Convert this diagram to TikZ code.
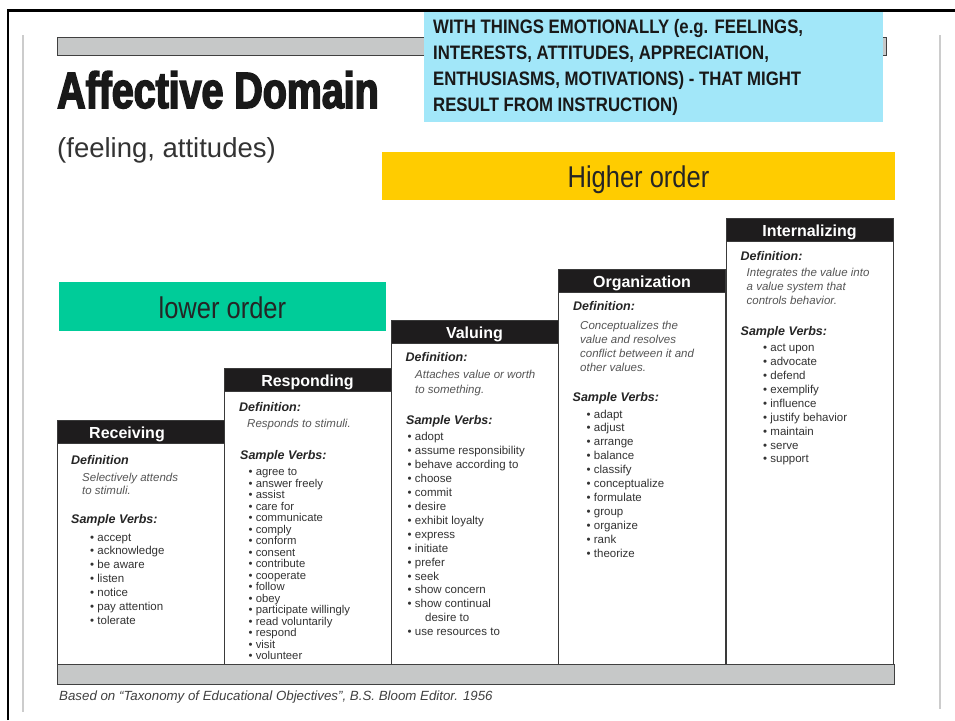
\documentclass[tikz,border=0pt]{standalone}
\usepackage{fontspec}
\setmainfont{Liberation Sans}
\newfontfamily\narrowfont[FakeStretch=0.85]{Liberation Sans}
\newfontfamily\bluefont[FakeStretch=0.86]{Liberation Sans}
\newfontfamily\titlefont[FakeStretch=0.772,FakeBold=3]{Liberation Sans}
\definecolor{hdrblack}{HTML}{1E1C1D}
\definecolor{colline}{HTML}{3A3A3A}
\definecolor{barfill}{HTML}{C6C8C8}
\definecolor{barline}{HTML}{404040}
\definecolor{cyanbox}{HTML}{A2E7F9}
\definecolor{yellowbox}{HTML}{FFCC00}
\definecolor{greenbox}{HTML}{00CC99}
\definecolor{framegray}{HTML}{CCCCCC}
\definecolor{itemtext}{HTML}{333333}
\definecolor{deftext}{HTML}{555555}
\definecolor{lbltext}{HTML}{252525}
\tikzset{
  colbox/.style={draw=colline, line width=1.3pt, fill=white, minimum width=167pt, anchor=north west, inner sep=0pt},
  hdrbox/.style={draw=colline, line width=1.2pt, fill=hdrblack, minimum width=167pt, minimum height=23pt, anchor=north west, inner sep=0pt},
  hdrtxt/.style={text=white, anchor=base, inner sep=0pt, font=\bfseries\fontsize{16}{19}\selectfont},
  deflbl/.style={anchor=base west, inner sep=0pt, text=lbltext, font=\bfseries\itshape\fontsize{12.5}{14}\selectfont},
  deftxt/.style={anchor=base west, inner sep=0pt, text=deftext, font=\itshape\fontsize{11.5}{14}\selectfont},
  itemtxt/.style={anchor=base west, inner sep=0pt, text=itemtext, font=\fontsize{11.5}{14}\selectfont},
  itemtxtsmall/.style={anchor=base west, inner sep=0pt, text=itemtext, font=\fontsize{11.3}{12}\selectfont},
  grbar/.style={draw=barline, line width=1.3pt, fill=barfill, anchor=north west, inner sep=0pt},
  colorbox/.style={anchor=north west, inner sep=0pt, draw=none},
  bigtxt/.style={anchor=base, inner sep=0pt, text=lbltext, font=\narrowfont\fontsize{30}{34}\selectfont},
  bluetxt/.style={anchor=base west, inner sep=0pt, text=black!90, font=\bluefont\bfseries\fontsize{19.5}{24}\selectfont},
}
\begin{document}
\begin{tikzpicture}[x=1pt,y=-1pt]
\useasboundingbox (0,0) rectangle (955,720);
\fill[white] (0,0) rectangle (955,720);
% frame lines
\coordinate (ftl) at (8,10.5);
\coordinate (ftr) at (955,10.5);
\coordinate (fbl) at (8,720);
\draw[black, line width=2.4pt] (fbl) -- (ftl) -- (ftr);
\coordinate (lg1) at (23,35);
\coordinate (lg2) at (23,712);
\coordinate (rg1) at (940,35);
\coordinate (rg2) at (940,709);
\draw[framegray, line width=1.6pt] (lg1) -- (lg2);
\draw[framegray, line width=1.6pt] (rg1) -- (rg2);
% top bar
\node[grbar, minimum width=829pt, minimum height=18pt] (topbar) at (57,36.5) {};
% title
\node[anchor=base west, inner sep=0pt, text=black!90, font=\titlefont\bfseries\fontsize{51}{56}\selectfont] (title) at (57,108) {Affective Domain};
\node[anchor=base west, inner sep=0pt, text=black!80, font=\fontsize{27.5}{30}\selectfont] (subtitle) at (57,157) {(feeling, attitudes)};
% cyan box
\node[colorbox, fill=cyanbox, minimum width=459pt, minimum height=110pt] (bluebox) at (424,12) {};
\node[bluetxt] (bt1) at (433,33) {WITH THINGS EMOTIONALLY (e.g. FEELINGS,};
\node[bluetxt] (bt2) at (433,59) {INTERESTS, ATTITUDES, APPRECIATION,};
\node[bluetxt] (bt3) at (433,85) {ENTHUSIASMS, MOTIVATIONS) - THAT MIGHT};
\node[bluetxt] (bt4) at (433,111) {RESULT FROM INSTRUCTION)};
% yellow and green boxes
\node[colorbox, fill=yellowbox, minimum width=513pt, minimum height=48pt] (yellowbox) at (382,152) {};
\node[bigtxt] (higher) at (638.5,187) {Higher order};
\node[colorbox, fill=greenbox, minimum width=327pt, minimum height=49pt] (greenbox) at (59,282) {};
\node[bigtxt] (lower) at (222.4,318) {lower order};
% columns
\node[colbox, minimum height=244pt] (recbox) at (57,420) {};
\node[colbox, minimum height=296pt] (resbox) at (224,368) {};
\node[colbox, minimum height=344pt] (valbox) at (391,320) {};
\node[colbox, minimum height=395pt] (orgbox) at (558,269) {};
\node[colbox, minimum height=446pt] (intbox) at (726,218) {};
% headers
\node[hdrbox] (rechdr) at (57,420) {};
\node[hdrbox] (reshdr) at (224,368) {};
\node[hdrbox] (valhdr) at (391,320) {};
\node[hdrbox] (orghdr) at (558,269) {};
\node[hdrbox] (inthdr) at (726,218) {};
\node[hdrtxt] (rect) at (127,438) {Receiving};
\node[hdrtxt] (rest) at (307.5,386) {Responding};
\node[hdrtxt] (valt) at (474.5,338) {Valuing};
\node[hdrtxt] (orgt) at (642,287) {Organization};
\node[hdrtxt] (intt) at (809.5,236) {Internalizing};
% Receiving
\node[deflbl] (recdef) at (71,464) {Definition};
\node[deftxt] (recd1) at (82,481) {Selectively attends};
\node[deftxt] (recd2) at (82,494) {to stimuli.};
\node[deflbl] (recsv) at (71,523) {Sample Verbs:};
\foreach \t [count=\i from 0] in {accept, acknowledge, be aware, listen, notice, pay attention, tolerate}
  \node[itemtxt] (rec-\i) at (90,{541+13.9*\i}) {• \t};
% Responding
\node[deflbl] (resdef) at (239,411) {Definition:};
\node[deftxt] (resd1) at (247,427) {Responds to stimuli.};
\node[deflbl] (ressv) at (240,459) {Sample Verbs:};
\foreach \t [count=\i from 0] in {agree to, answer freely, assist, care for, communicate, comply, conform, consent, contribute, cooperate, follow, obey, participate willingly, read voluntarily, respond, visit, volunteer}
  \node[itemtxtsmall] (res-\i) at (248.5,{475.5+11.52*\i}) {• \t};
% Valuing
\node[deflbl] (valdef) at (405.5,361) {Definition:};
\node[deftxt] (vald1) at (415,378) {Attaches value or worth};
\node[deftxt] (vald2) at (415,393) {to something.};
\node[deflbl] (valsv) at (406,424) {Sample Verbs:};
\foreach \t [count=\i from 0] in {adopt, assume responsibility, behave according to, choose, commit, desire, exhibit loyalty, express, initiate, prefer, seek, show concern, show continual}
  \node[itemtxt] (val-\i) at (407.5,{440.7+13.93*\i}) {• \t};
\node[itemtxt] (val-13) at (425,{440.7+13.93*13}) {desire to};
\node[itemtxt] (val-14) at (407.5,{440.7+13.93*14}) {• use resources to};
% Organization
\node[deflbl] (orgdef) at (573,310) {Definition:};
\node[deftxt] (orgd1) at (580,329) {Conceptualizes the};
\node[deftxt] (orgd2) at (580,343) {value and resolves};
\node[deftxt] (orgd3) at (580,357) {conflict between it and};
\node[deftxt] (orgd4) at (580,371) {other values.};
\node[deflbl] (orgsv) at (572.5,401) {Sample Verbs:};
\foreach \t [count=\i from 0] in {adapt, adjust, arrange, balance, classify, conceptualize, formulate, group, organize, rank, theorize}
  \node[itemtxt] (org-\i) at (586.5,{418+13.9*\i}) {• \t};
% Internalizing
\node[deflbl] (intdef) at (740.5,260) {Definition:};
\node[deftxt] (intd1) at (746.5,276) {Integrates the value into};
\node[deftxt] (intd2) at (746.5,290) {a value system that};
\node[deftxt] (intd3) at (746.5,304) {controls behavior.};
\node[deflbl] (intsv) at (740.5,335) {Sample Verbs:};
\foreach \t [count=\i from 0] in {act upon, advocate, defend, exemplify, influence, justify behavior, maintain, serve, support}
  \node[itemtxt] (int-\i) at (763,{351.7+13.9*\i}) {• \t};
% bottom bar
\node[grbar, minimum width=837pt, minimum height=19.5pt] (botbar) at (57,664) {};
% footnote
\node[anchor=base west, inner sep=0pt, text=black!75, font=\itshape\fontsize{13.3}{15}\selectfont] (foot) at (59,700) {Based on ``Taxonomy of Educational Objectives'', B.S. Bloom Editor. 1956};
\end{tikzpicture}
\end{document}
